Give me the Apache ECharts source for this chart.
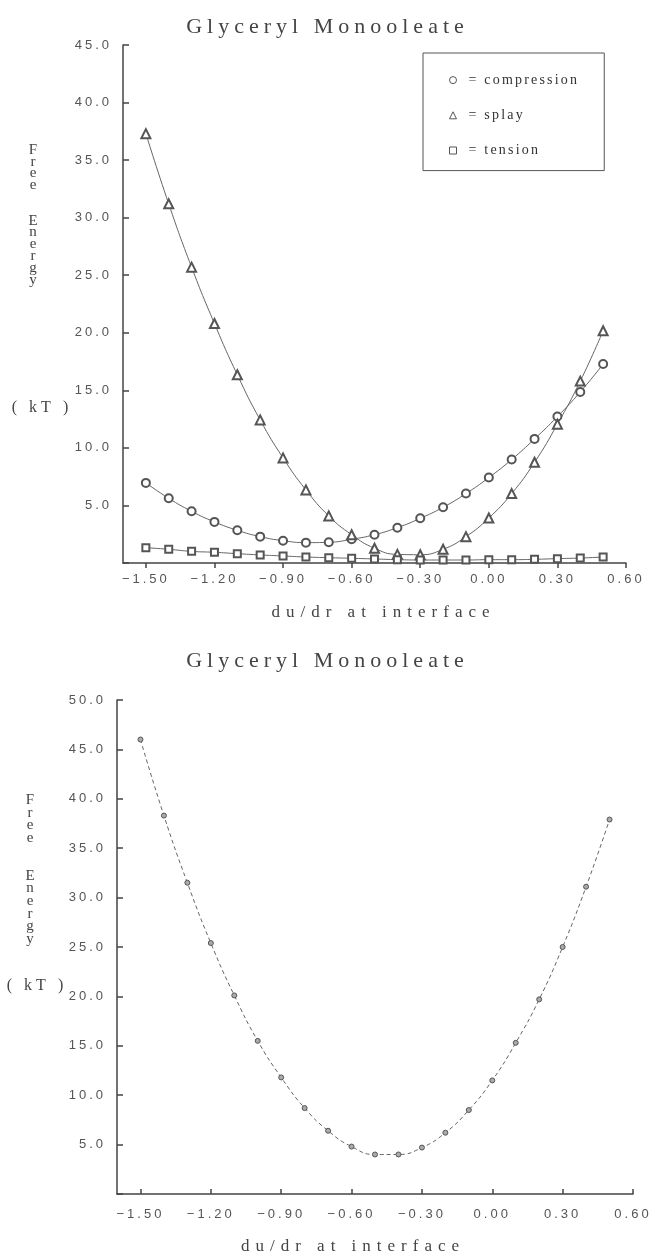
<!DOCTYPE html>
<html>
<head>
<meta charset="utf-8">
<script src="https://cdn.jsdelivr.net/npm/echarts@6/dist/echarts.min.js"></script>
<style>html,body{margin:0;padding:0;background:#fff}#c{width:655px;height:1259px}</style>
</head>
<body>
<div id="c"></div>
<script>
// ---------- data ----------
const xValues = [-1.5,-1.4,-1.3,-1.2,-1.1,-1.0,-0.9,-0.8,-0.7,-0.6,-0.5,-0.4,-0.3,-0.2,-0.1,0.0,0.1,0.2,0.3,0.4,0.5];
const compression = [6.96,5.62,4.49,3.57,2.84,2.29,1.94,1.77,1.80,2.06,2.46,3.07,3.88,4.84,6.03,7.42,8.99,10.78,12.72,14.86,17.28];
const splay = [37.3,31.2,25.7,20.8,16.35,12.43,9.13,6.35,4.09,2.46,1.28,0.75,0.72,1.19,2.29,3.91,6.03,8.75,12.06,15.8,20.17];
const tension = [1.33,1.19,1.01,0.93,0.81,0.70,0.61,0.52,0.46,0.41,0.35,0.29,0.26,0.26,0.26,0.29,0.29,0.32,0.38,0.43,0.52];
const total = [46.0,38.3,31.5,25.4,20.1,15.5,11.8,8.7,6.4,4.8,4.0,4.0,4.7,6.2,8.5,11.5,15.3,19.7,25.0,31.1,37.9];
const xTickLabels = [-1.5,-1.2,-0.9,-0.6,-0.3,0.0,0.3,0.6];
const seriesNames = ['compression','splay','tension'];
const titleText = 'Glyceryl Monooleate';
const xAxisName = 'du/dr at interface';
const yNameLetters = 'F\nr\ne\ne\n\n\nE\nn\ne\nr\ng\ny';
const yUnit = '( kT )';

// ---------- letter spacing for the typewriter-like look (by font size) ----------
(function(){
  const P = CanvasRenderingContext2D.prototype;
  if (!('letterSpacing' in P)) return;
  const map = {22:5, 17:6, 16:4, 14:2.2, 13:3};
  function apply(ctx){
    const m = /(\d+(?:\.\d+)?)px/.exec(ctx.font);
    const s = m ? (map[Math.round(parseFloat(m[1]))] || 0) : 0;
    const v = s + 'px';
    if (ctx.letterSpacing !== v) ctx.letterSpacing = v;
  }
  const f = P.fillText, st = P.strokeText, me = P.measureText;
  P.fillText = function(){ apply(this); return f.apply(this, arguments); };
  P.strokeText = function(){ apply(this); return st.apply(this, arguments); };
  P.measureText = function(){ apply(this); return me.apply(this, arguments); };
})();

const SERIF = '"Liberation Serif", "DejaVu Serif", serif';
const SANS = '"Liberation Sans", Arial, sans-serif';
const AX = '#444';
const LINE = '#666';

function fmtX(v){ return v.toFixed(2).replace('-', '\u2212'); }
function fmtY(v){ return v === 0 ? '' : v.toFixed(1); }
function pairs(ys){ return xValues.map((x,i)=>[x, ys[i]]); }

function xAxisCfg(grid, tickInside, labelMargin, nameGap, namePad){
  return {
    gridIndex: grid, type: 'value', min: -1.6, max: 0.6,
    axisLine: {show: true, onZero: false, lineStyle: {color: AX, width: 1.5}},
    axisTick: {show: true, customValues: xTickLabels, inside: tickInside, length: 5, lineStyle: {color: AX, width: 1.5}},
    axisLabel: {customValues: xTickLabels, formatter: fmtX, margin: labelMargin, fontSize: 13, fontFamily: SANS, color: '#555'},
    splitLine: {show: false},
    name: xAxisName, nameLocation: 'middle', nameGap: nameGap,
    nameTextStyle: {fontFamily: SERIF, fontSize: 17, color: AX, padding: namePad}
  };
}
function yAxisCfg(grid, max){
  return {
    gridIndex: grid, type: 'value', min: 0, max: max, interval: 5,
    axisLine: {show: true, onZero: false, lineStyle: {color: AX, width: 1.5}},
    axisTick: {show: true, inside: true, length: 6, lineStyle: {color: AX, width: 1.5}},
    axisLabel: {formatter: fmtY, margin: 11, fontSize: 13, fontFamily: SANS, color: '#555'},
    splitLine: {show: false}
  };
}

const chart = echarts.init(document.getElementById('c'), null, {renderer: 'canvas'});
const legendItemStyle = {color: '#fff', borderColor: '#555', borderWidth: 1};
const option = {
  animation: false,
  backgroundColor: '#fff',
  title: [
    {text: titleText, left: 'center', top: 9, textStyle: {fontFamily: SERIF, fontSize: 22, fontWeight: 'normal', color: AX}},
    {text: titleText, left: 'center', top: 643, textStyle: {fontFamily: SERIF, fontSize: 22, fontWeight: 'normal', color: AX}}
  ],
  legend: {
    orient: 'vertical', left: 423, top: 53,
    padding: [19, 25, 12, 26],
    itemWidth: 7, itemHeight: 7, itemGap: 19,
    borderColor: '#555', borderWidth: 1,
    selectedMode: false,
    formatter: '= {name}',
    textStyle: {fontFamily: SERIF, fontSize: 14, color: '#333', lineHeight: 16, padding: [0, 0, 0, 7]},
    data: [
      {name: seriesNames[0], icon: 'circle', itemStyle: legendItemStyle},
      {name: seriesNames[1], icon: 'triangle', itemStyle: legendItemStyle},
      {name: seriesNames[2], icon: 'rect', itemStyle: legendItemStyle}
    ]
  },
  grid: [
    {left: 123, top: 45, width: 503, height: 518},
    {left: 117, top: 700, width: 516, height: 497}
  ],
  xAxis: [
    xAxisCfg(0, false, 8, 38, [0, 0, 0, 18]),
    xAxisCfg(1, true, 12, 41, [0, 44, 0, 0])
  ],
  yAxis: [ yAxisCfg(0, 45), yAxisCfg(1, 50) ],
  graphic: [
    {type: 'text', x: 33, y: 144, style: {text: yNameLetters, font: '15px ' + SERIF, lineHeight: 11.8, fill: AX, align: 'center', verticalAlign: 'top'}},
    {type: 'text', x: 42, y: 408, style: {text: yUnit, font: '16px ' + SERIF, fill: AX, align: 'center', verticalAlign: 'middle'}},
    {type: 'text', x: 30, y: 794, style: {text: yNameLetters, font: '15px ' + SERIF, lineHeight: 12.6, fill: AX, align: 'center', verticalAlign: 'top'}},
    {type: 'text', x: 37, y: 986, style: {text: yUnit, font: '16px ' + SERIF, fill: AX, align: 'center', verticalAlign: 'middle'}}
  ],
  series: [
    {type: 'line', name: seriesNames[0], xAxisIndex: 0, yAxisIndex: 0, data: pairs(compression), smooth: true,
     symbol: 'emptyCircle', symbolSize: 8, lineStyle: {color: LINE, width: 1}, itemStyle: {color: '#555', borderWidth: 1}},
    {type: 'line', name: seriesNames[1], xAxisIndex: 0, yAxisIndex: 0, data: pairs(splay), smooth: true,
     symbol: 'emptyTriangle', symbolSize: 9, lineStyle: {color: LINE, width: 1}, itemStyle: {color: '#555', borderWidth: 1}},
    {type: 'line', name: seriesNames[2], xAxisIndex: 0, yAxisIndex: 0, data: pairs(tension), smooth: true,
     symbol: 'emptyRect', symbolSize: 7, lineStyle: {color: LINE, width: 1}, itemStyle: {color: '#555', borderWidth: 1}},
    {type: 'line', name: 'total', xAxisIndex: 1, yAxisIndex: 1, data: pairs(total), smooth: true,
     symbol: 'circle', symbolSize: 5, lineStyle: {color: LINE, width: 1, type: [4, 3]},
     itemStyle: {color: '#aaa', borderColor: '#555', borderWidth: 1}}
  ]
};
chart.setOption(option);
</script>
</body>
</html>
